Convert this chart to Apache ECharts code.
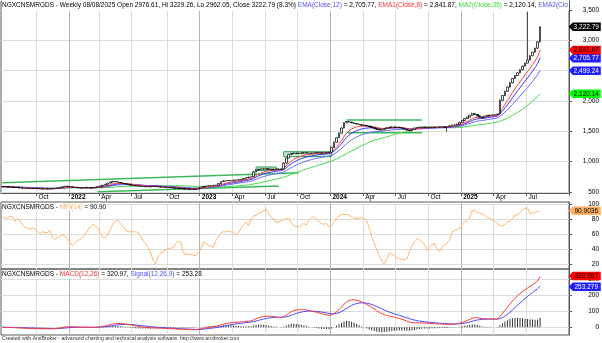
<!DOCTYPE html>
<html>
<head>
<meta charset="utf-8">
<title>NGXCNSMRGDS weekly</title>
<script src="https://cdn.jsdelivr.net/npm/echarts@6.0.0/dist/echarts.min.js"></script>
<style>
html,body{margin:0;padding:0;background:#fff;}
#chart{width:602px;height:343px;}
</style>
</head>
<body>
<div id="chart"></div>
<script>
// NGX Consumer Goods index, weekly bars from the week ending 2 Jul 2021
const ticker = 'NGXCNSMRGDS';
const firstBarDate = [2021, 6, 2];
const nonTradingFridays = ['2021-10-01', '2022-04-15', '2023-04-07', '2024-03-29', '2025-04-18'];
const blankWeeks = 11;
const monthNames = ['Jan','Feb','Mar','Apr','May','Jun','Jul','Aug','Sep','Oct','Nov','Dec'];
const quarterMonths = [0, 3, 6, 9];

const opens = [
  590,588,586,583,581,577,574,571,567,563,
  560,562,558,556,559,554,551,549,552,548,
  551,556,561,568,576,589,597,591,586,578,
  574,570,566,568,572,569,566,572,580,588,
  598,612,626,646,662,674,668,659,648,640,
  631,622,612,605,600,596,592,589,587,585,
  588,592,590,584,580,578,575,572,569,566,
  562,558,555,551,548,545,547,543,548,560,
  582,590,596,602,606,610,614,640,672,684,
  688,686,690,695,698,700,708,722,735,745,
  752,830,862,875,880,878,882,876,872,875,
  878,874,880,975,1060,1120,1135,1140,1136,1138,
  1142,1146,1142,1138,1141,1146,1150,1147,1142,1145,
  1150,1156,1235,1320,1395,1470,1555,1640,1662,1652,
  1640,1630,1620,1611,1602,1595,1588,1576,1561,1548,
  1532,1522,1526,1545,1560,1568,1571,1566,1569,1561,
  1548,1535,1519,1508,1530,1556,1565,1568,1571,1567,
  1565,1567,1570,1567,1571,1573,1575,1565,1578,1590,
  1602,1605,1620,1650,1680,1710,1735,1765,1790,1780,
  1755,1735,1725,1750,1762,1766,1770,1774,1785,2010,
  2090,2160,2230,2300,2370,2420,2465,2515,2575,2625,
  2675,2745,2805,2870,2976.61
];
const highs = [
  593,590,588,585,582,579,576,573,568,566,
  565,564,561,561,560,556,553,554,553,553,
  558,563,570,579,592,600,599,594,588,581,
  577,572,570,574,574,571,575,583,591,602,
  615,630,650,668,686,678,670,661,651,642,
  633,625,614,607,602,598,594,591,589,591,
  595,595,592,586,582,580,577,574,571,568,
  564,560,557,553,550,550,549,550,563,586,
  594,600,605,610,613,617,645,680,690,692,
  692,694,699,702,705,712,727,742,752,758,
  845,870,882,888,885,888,884,880,880,883,
  882,884,990,1070,1128,1142,1146,1144,1143,1147,
  1151,1149,1145,1145,1150,1154,1153,1150,1149,1154,
  1160,1245,1330,1405,1480,1565,1650,1672,1668,1656,
  1645,1636,1625,1618,1607,1600,1592,1580,1566,1552,
  1538,1532,1550,1565,1574,1578,1576,1574,1574,1565,
  1553,1540,1524,1535,1560,1570,1572,1576,1575,1570,
  1571,1575,1574,1575,1578,1580,1580,1582,1595,1608,
  1610,1625,1656,1686,1716,1742,1772,1808,1798,1785,
  1760,1742,1756,1768,1772,1776,1779,1790,2025,2098,
  2168,2238,2308,2378,2428,2472,2522,2582,2632,3470,
  2752,2812,2878,2988,3229.26
];
const lows = [
  585,583,580,578,574,571,568,564,560,557,
  558,555,553,554,551,548,546,547,545,546,
  549,554,559,566,574,586,588,583,575,571,
  567,563,564,566,567,564,564,570,578,586,
  596,610,624,643,660,664,655,645,636,628,
  619,609,602,598,593,589,587,584,582,583,
  586,587,581,577,575,572,569,566,563,559,
  555,552,548,545,542,543,540,541,546,558,
  579,587,594,599,603,607,611,636,668,680,
  682,684,687,692,695,697,705,719,731,741,
  748,826,858,870,874,873,872,868,868,871,
  870,870,876,970,1055,1115,1130,1132,1131,1134,
  1138,1138,1134,1135,1138,1142,1143,1138,1138,1141,
  1146,1150,1230,1315,1390,1465,1550,1635,1646,1636,
  1625,1614,1606,1597,1590,1582,1570,1555,1542,1526,
  1515,1518,1520,1540,1555,1563,1560,1562,1556,1543,
  1530,1514,1500,1505,1526,1552,1561,1564,1562,1560,
  1560,1563,1562,1563,1567,1569,1560,1495,1572,1585,
  1598,1600,1616,1645,1675,1704,1730,1760,1772,1750,
  1728,1718,1720,1745,1756,1761,1765,1770,1780,2002,
  2082,2152,2222,2292,2362,2412,2458,2508,2568,2618,
  2668,2738,2798,2862,2962.05
];
const closes = [
  588,586,583,581,577,574,571,567,563,560,
  562,558,556,559,554,551,549,552,548,551,
  556,561,568,576,589,597,591,586,578,574,
  570,566,568,572,569,566,572,580,588,598,
  612,626,646,662,674,668,659,648,640,631,
  622,612,605,600,596,592,589,587,585,588,
  592,590,584,580,578,575,572,569,566,562,
  558,555,551,548,545,547,543,548,560,582,
  590,596,602,606,610,614,640,672,684,688,
  686,690,695,698,700,708,722,735,745,752,
  830,862,875,880,878,882,876,872,875,878,
  874,880,975,1060,1120,1135,1140,1136,1138,1142,
  1146,1142,1138,1141,1146,1150,1147,1142,1145,1150,
  1156,1235,1320,1395,1470,1555,1640,1662,1652,1640,
  1630,1620,1611,1602,1595,1588,1576,1561,1548,1532,
  1522,1526,1545,1560,1568,1571,1566,1569,1561,1548,
  1535,1519,1508,1530,1556,1565,1568,1571,1567,1565,
  1567,1570,1567,1571,1573,1575,1565,1578,1590,1602,
  1605,1620,1650,1680,1710,1735,1765,1790,1780,1755,
  1735,1725,1750,1762,1766,1770,1774,1785,2010,2090,
  2160,2230,2300,2370,2420,2465,2515,2575,2625,2675,
  2745,2805,2870,2975,3222.79
];
const mfi14 = [
  83,82,81,84,83,77,80,78,72,69,
  68,66,68,67,63,61,63,62,62,65,
  55,53,55,57,59,57,54,48,44,49,
  51,53,56,59,65,70,73,71,67,61,
  56,55,59,66,73,77,79,74,70,66,
  63,63,63,63,62,58,51,47,42,36,
  25,20,30,34,37,39,40,41,42,47,
  50,50,35,33,33,33,32,31,35,40,
  50,47,45,44,42,51,56,61,63,63,
  64,63,61,59,62,68,72,76,71,80,
  84,85,87,89,91,93,86,82,80,75,
  76,78,79,80,81,75,71,70,69,71,
  74,72,78,82,83,80,77,74,73,74,
  69,71,76,81,84,86,86,86,85,83,
  81,81,81,82,81,78,68,57,48,39,
  31,24,20,26,35,33,31,28,27,26,
  26,27,36,44,50,54,52,49,46,38,
  42,46,47,39,37,43,45,48,52,63,
  65,66,67,73,76,78,81,91,92,88,
  88,87,85,82,81,79,77,74,71,71,
  72,76,77,80,85,85,89,92,94,95,
  87,88,89,90,90.9036
];

const priceTicks = [500, 1000, 1500, 2000, 2500, 3000, 3500];
const mfiTicks = [20, 40, 60, 80, 100];
const macdTicks = [0, 100, 200, 300];

// hand-drawn studies on the price pane: [startBar, startValue, endBar, endValue]
const trendLines = [
  [0, 653, 118, 818],
  [38, 503, 110, 599],
  [137, 1687, 167, 1687],
  [137, 1477, 167, 1477]
];
const rangeBoxes = [
  [101, 912, 109, 856],
  [112, 1164, 131, 1082]
];

const lastQuote = { date: '08/08/2025', open: 2976.61, high: 3229.26, low: 2962.05, close: 3222.79, change: 8.3 };
const averagesLast = { ema12: 2705.77, ema8: 2841.87, ma35: 2120.14, ema20: 2499.24 };
const mfiLast = 90.9036;
const macdLast = { macd: 320.967, signal: 253.279 };

const FONT = '"Liberation Sans", Arial, sans-serif';
const GRID_LIGHT = '#dcdcdc';
const GRID_YEAR = '#b4b4b4';
const FRAME = '#5a5a5a';

// weekly category dates (last trading day of each week)
const dates = [];
for (let i = 0; i < closes.length + blankWeeks; i++) {
  const d = new Date(Date.UTC(firstBarDate[0], firstBarDate[1], firstBarDate[2] + 7 * i));
  let s = d.toISOString().slice(0, 10);
  if (nonTradingFridays.includes(s)) s = new Date(d.getTime() - 864e5).toISOString().slice(0, 10);
  dates.push(s);
}
const monthOf = s => +s.slice(5, 7) - 1;
function isQuarterStart(i) {
  if (i <= 0 || i >= closes.length) return false;
  const m = monthOf(dates[i]);
  return m !== monthOf(dates[i - 1]) && quarterMonths.includes(m);
}

// technical studies
function ema(values, period) {
  const k = 2 / (period + 1);
  const out = [];
  let prev = values[0];
  values.forEach((v, i) => {
    prev = i === 0 ? v : v * k + prev * (1 - k);
    out.push(+prev.toFixed(2));
  });
  return out;
}
function sma(values, period) {
  const out = [];
  let sum = 0;
  values.forEach((v, i) => {
    sum += v;
    if (i >= period) sum -= values[i - period];
    out.push(+(sum / Math.min(i + 1, period)).toFixed(2));
  });
  return out;
}
const ema8 = ema(closes, 8);
const ema12 = ema(closes, 12);
const ema20 = ema(closes, 20);
const ema26 = ema(closes, 26);
const ma35 = sma(closes, 35);
const macd = ema12.map((v, i) => +(v - ema26[i]).toFixed(2));
const signal = ema(macd, 9);
const hist = macd.map((v, i) => +(v - signal[i]).toFixed(2));

const fmt2 = v => v.toLocaleString('en-US', { minimumFractionDigits: 2, maximumFractionDigits: 2 });

function axisTag(value, text, bg, fg) {
  return {
    symbol: 'path://M0,4 L4,0 L32,0 L32,8 L4,8 Z',
    symbolSize: [32, 8.4],
    symbolOffset: [17, 0],
    silent: true,
    itemStyle: { color: bg },
    label: { show: true, position: 'inside', color: fg, fontSize: 6.5, fontFamily: FONT, formatter: text, offset: [1.5, 0.3] },
    data: [{ coord: [dates[dates.length - 1], value] }]
  };
}

function timeAxis(gridIndex, showLabels) {
  return {
    type: 'category', gridIndex, data: dates, boundaryGap: true,
    axisLine: { show: showLabels, lineStyle: { color: FRAME, width: 1 } },
    axisTick: { show: showLabels, interval: isQuarterStart, length: 3, lineStyle: { color: FRAME } },
    axisLabel: {
      show: showLabels, interval: isQuarterStart, align: 'left', margin: 1,
      fontSize: 6.5, fontFamily: FONT, color: '#000', padding: [0, 0, 0, 1],
      formatter: v => monthOf(v) === 0 ? '{y|' + v.slice(0, 4) + '}' : monthNames[monthOf(v)],
      rich: { y: { fontWeight: 'bold', fontSize: 6.5, fontFamily: FONT, color: '#000' } }
    },
    splitLine: { show: true, interval: isQuarterStart, lineStyle: { color: [GRID_LIGHT, GRID_YEAR, GRID_LIGHT, GRID_LIGHT], width: 1 } }
  };
}
function valueAxis(gridIndex, min, max, ticks, formatter) {
  return {
    type: 'value', gridIndex, position: 'right', min, max, scale: true,
    axisLine: { show: true, lineStyle: { color: FRAME } },
    axisTick: { show: true, length: 3, customValues: ticks, lineStyle: { color: FRAME } },
    axisLabel: { show: true, customValues: ticks, align: 'right', margin: 30, fontSize: 6.5, fontFamily: FONT, color: '#000', formatter },
    splitLine: { show: true, lineStyle: { color: GRID_LIGHT, width: 1 } }
  };
}

const gridBase = { left: 1, right: 32, show: true, borderColor: FRAME, borderWidth: 1, backgroundColor: 'transparent' };

const headerText =
  '{k|' + ticker + ' - Weekly ' + lastQuote.date + ' Open ' + lastQuote.open + ', Hi ' + lastQuote.high +
  ', Lo ' + lastQuote.low + ', Close ' + lastQuote.close + ' (' + lastQuote.change + '%) }' +
  '{b|EMA(Close,12)}{k| = ' + fmt2(averagesLast.ema12) + ', }' +
  '{r|EMA1(Close,8)}{k| = ' + fmt2(averagesLast.ema8) + ', }' +
  '{g|MA2(Close,35)}{k| = ' + fmt2(averagesLast.ma35) + ', }' +
  '{b|EMA2(Clo}';
const mfiHeader = '{k|' + ticker + ' - }{o|MFI(14)}{k| = ' + mfiLast.toFixed(2) + '}';
const macdHeader = '{k|' + ticker + ' - }{r|MACD(12,26)}{k| = ' + macdLast.macd.toFixed(2) + ', }{b|Signal(12,26,9)}{k| = ' + macdLast.signal.toFixed(2) + '}';
const richColors = {
  k: { fill: '#000', fontSize: 6.5, fontFamily: FONT },
  b: { fill: '#5050ff', fontSize: 6.5, fontFamily: FONT },
  r: { fill: '#ff3030', fontSize: 6.5, fontFamily: FONT },
  g: { fill: '#30dd30', fontSize: 6.5, fontFamily: FONT },
  o: { fill: '#ffaa55', fontSize: 6.5, fontFamily: FONT }
};

const chart = echarts.init(document.getElementById('chart'), null, { renderer: 'canvas' });
chart.setOption({
  animation: false,
  backgroundColor: '#fff',
  grid: [
    Object.assign({ top: 1, height: 192 }, gridBase),
    Object.assign({ top: 202, height: 67 }, gridBase),
    Object.assign({ top: 269, height: 66 }, gridBase)
  ],
  xAxis: [timeAxis(0, true), timeAxis(1, false), timeAxis(2, false)],
  yAxis: [
    valueAxis(0, 483.5, 3648.4, priceTicks, v => v.toLocaleString('en-US')),
    valueAxis(1, 13.33, 102.67, mfiTicks, v => String(v)),
    valueAxis(2, -48, 364.4, macdTicks, v => String(v))
  ],
  series: [
    ...trendLines.map(([i0, v0, i1, v1], n) => ({
      type: 'line', xAxisIndex: 0, yAxisIndex: 0, silent: true, z: 1,
      symbol: 'none', data: [[dates[i0], v0], [dates[i1], v1]],
      lineStyle: { color: '#3cb85c', width: 1.4 },
      markArea: n === 0 ? {
        silent: true,
        itemStyle: { color: 'rgba(130,215,160,0.5)', borderColor: '#2f9e55', borderWidth: 1 },
        data: rangeBoxes.map(([a, top, b, bottom]) => [{ coord: [dates[a], top] }, { coord: [dates[b], bottom] }])
      } : undefined
    })),
    {
      type: 'line', name: 'MA2(Close,35)', xAxisIndex: 0, yAxisIndex: 0, data: ma35, symbol: 'none', z: 2,
      lineStyle: { color: '#44e044', width: 1 },
      markPoint: axisTag(averagesLast.ma35, fmt2(averagesLast.ma35), '#00ff00', '#000')
    },
    {
      type: 'line', name: 'EMA2', xAxisIndex: 0, yAxisIndex: 0, data: ema20, symbol: 'none', z: 2,
      lineStyle: { color: '#6a6aff', width: 1 },
      markPoint: axisTag(averagesLast.ema20, fmt2(averagesLast.ema20), '#1e1eff', '#fff')
    },
    {
      type: 'line', name: 'EMA(Close,12)', xAxisIndex: 0, yAxisIndex: 0, data: ema12, symbol: 'none', z: 2,
      lineStyle: { color: '#3535ff', width: 1 },
      markPoint: axisTag(averagesLast.ema12, fmt2(averagesLast.ema12), '#1e1eff', '#fff')
    },
    {
      type: 'line', name: 'EMA1(Close,8)', xAxisIndex: 0, yAxisIndex: 0, data: ema8, symbol: 'none', z: 2,
      lineStyle: { color: '#ff4040', width: 1 },
      markPoint: axisTag(averagesLast.ema8, fmt2(averagesLast.ema8), '#ff0000', '#000')
    },
    {
      type: 'candlestick', name: ticker, xAxisIndex: 0, yAxisIndex: 0, z: 3, barWidth: 2.2,
      data: closes.map((c, i) => [opens[i], c, lows[i], highs[i]]),
      itemStyle: { color: '#fff', color0: '#000', borderColor: '#000', borderColor0: '#000', borderWidth: 0.7 },
      markPoint: axisTag(lastQuote.close, fmt2(lastQuote.close), '#000', '#fff')
    },
    {
      type: 'line', name: 'MFI(14)', xAxisIndex: 1, yAxisIndex: 1, data: mfi14, symbol: 'none',
      lineStyle: { color: '#ffb870', width: 1 },
      markPoint: axisTag(mfiLast, String(mfiLast), '#ffb060', '#000')
    },
    {
      type: 'bar', name: 'MACD histogram', xAxisIndex: 2, yAxisIndex: 2, data: hist, barWidth: 1,
      itemStyle: { color: '#333' }
    },
    {
      type: 'line', name: 'Signal(12,26,9)', xAxisIndex: 2, yAxisIndex: 2, data: signal, symbol: 'none',
      lineStyle: { color: '#4a4aff', width: 1 },
      markPoint: axisTag(macdLast.signal, String(macdLast.signal), '#1e1eff', '#fff')
    },
    {
      type: 'line', name: 'MACD(12,26)', xAxisIndex: 2, yAxisIndex: 2, data: macd, symbol: 'none',
      lineStyle: { color: '#ff3a3a', width: 1 },
      markPoint: axisTag(macdLast.macd, String(macdLast.macd), '#ff0000', '#000')
    }
  ],
  graphic: [
    { type: 'rect', left: 2, top: 0, z: 100, shape: { width: 567, height: 11 }, style: { fill: '#fff' } },
    { type: 'text', left: 2, top: 1.5, z: 101, style: { text: headerText, rich: richColors, fontSize: 6.5, fontFamily: FONT } },
    { type: 'text', left: 2, top: 203.5, z: 101, style: { text: mfiHeader, rich: richColors, fontSize: 6.5, fontFamily: FONT, backgroundColor: '#fff' } },
    { type: 'text', left: 2, top: 271, z: 101, style: { text: macdHeader, rich: richColors, fontSize: 6.5, fontFamily: FONT, backgroundColor: '#fff' } },
    { type: 'text', left: 2, top: 336.5, z: 101, style: { text: 'Created with AmiBroker - advanced charting and technical analysis software. http://www.amibroker.com', fill: '#333', fontSize: 5.2, fontFamily: FONT } }
  ]
});
</script>
</body>
</html>
